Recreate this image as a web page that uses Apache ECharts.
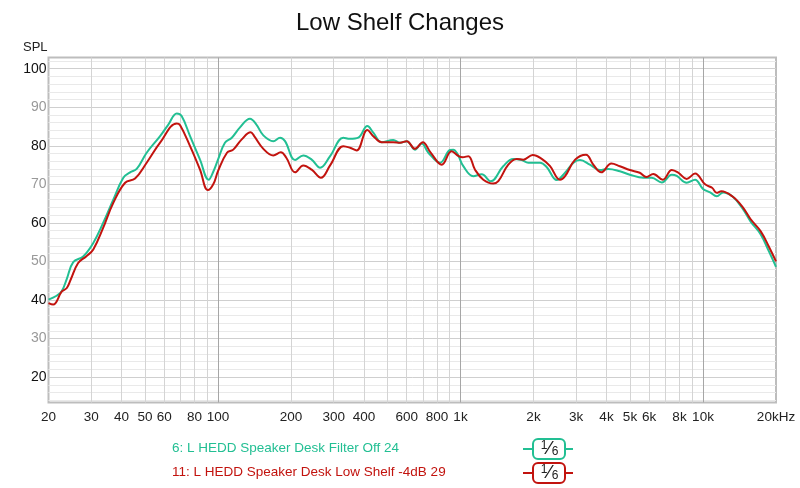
<!DOCTYPE html>
<html>
<head>
<meta charset="utf-8">
<script src="https://cdn.jsdelivr.net/npm/echarts@6/dist/echarts.min.js"></script>
<style>
  html, body { margin: 0; padding: 0; background: #fff; }
  #chart-panel { width: 800px; height: 488px; }
</style>
</head>
<body>
<div id="chart-panel"></div>
<script>
// traces, [Hz, dB]
var filterOffFreq = [20, 21.6, 22.7, 23.8, 25.3, 27.8, 30.6, 33.6, 37, 40.7, 43.4, 46.2, 50.8, 57.7, 62.4, 67.6, 70.8, 76.7, 84.3, 91.5, 95.5, 100, 106.8, 114, 123, 135.5, 144, 153.8, 169, 180.3, 189, 207.9, 224.8, 243.4, 263.7, 289.9, 328.8, 350, 379, 412.8, 437, 473, 528, 563, 600, 649, 692, 737, 823, 905, 934, 975, 1027, 1129, 1223, 1332, 1500, 1650, 1788, 1903, 2128, 2266, 2494, 2699, 2923, 3108, 3415, 3754, 4066, 4541, 4993, 5676, 6146, 6761, 7438, 7795, 8565, 9270, 10000, 10700, 11400, 12100, 13200, 14500, 15700, 17300, 18700, 20000];
var filterOffSpl = [40.1, 41.1, 42.3, 45.5, 49.8, 51.3, 54.8, 60, 66, 71.7, 73.1, 74.0, 78.2, 82.5, 85.5, 88.4, 87.7, 82.5, 76.4, 71.2, 73.2, 76.4, 80.8, 82.1, 84.7, 87.0, 85.5, 82.7, 81.2, 82.1, 81.2, 76.3, 77.5, 76.4, 74.3, 77.3, 82.1, 81.8, 82.1, 85.1, 83.4, 80.9, 81.5, 80.8, 81.2, 79.0, 80.6, 78.2, 75.6, 78.9, 79.0, 77.7, 74.7, 72.1, 72.6, 70.8, 74.7, 76.6, 76.3, 75.6, 75.6, 74.5, 71.1, 73.0, 75.6, 76.3, 75.1, 73.7, 74.0, 73.4, 72.5, 71.7, 71.7, 70.5, 72.5, 72.2, 70.4, 71.2, 68.8, 67.9, 66.9, 67.9, 66.9, 63.9, 60.4, 57.0, 52.6, 48.6];

var lowShelfFreq = [20, 20.9, 22.7, 23.8, 24.7, 26.5, 28.6, 30.6, 33.6, 37, 41.4, 45.5, 50.8, 57.7, 67.6, 69.8, 76.7, 84.3, 90.8, 95.6, 100, 108.9, 115.6, 125, 136.4, 141, 153.8, 169, 181.5, 191.3, 207.9, 224.8, 243.4, 265.7, 289.9, 328.8, 350, 373, 412.8, 437, 473, 528, 563, 600, 649, 699, 752, 837, 918, 982, 1020, 1077, 1148, 1242, 1365, 1432, 1574, 1705, 1816, 1985, 2163, 2341, 2572, 2699, 2969, 3291, 3529, 3806, 4191, 4541, 4993, 5486, 5842, 6233, 6826, 7438, 7914, 8565, 9273, 10200, 10900, 11400, 11900, 13200, 14500, 15700, 17300, 18700, 20000];
var lowShelfSpl = [39.2, 38.8, 42.2, 43.1, 45.3, 49.6, 51.3, 53.1, 58.7, 65.2, 70.4, 71.5, 75.6, 80.8, 85.8, 85.3, 79.9, 73.8, 68.5, 70.0, 73.4, 78.2, 79.0, 81.6, 83.5, 82.5, 79.2, 77.5, 78.3, 76.9, 73.1, 74.9, 73.8, 71.7, 74.9, 79.9, 79.5, 78.8, 84.1, 82.5, 80.9, 80.9, 80.8, 81.2, 79.2, 80.9, 78.3, 75.1, 78.6, 77.3, 77.0, 77.3, 73.8, 71.2, 70.2, 70.8, 75.1, 76.6, 76.4, 77.6, 76.6, 74.7, 71.2, 72.1, 76.4, 77.7, 75.1, 73.1, 75.4, 74.7, 73.7, 73.0, 71.9, 72.7, 71.2, 73.7, 73.0, 71.4, 72.8, 70.0, 69.1, 67.8, 68.2, 66.9, 64.3, 61.0, 57.8, 53.8, 50.0];

// axis ticks and grid lines
var freqLabels = [20, 30, 40, 50, 60, 80, 100, 200, 300, 400, 600, 800, 1000, 2000, 3000, 4000, 5000, 6000, 8000, 10000, 20000];
var freqMinor = [30, 40, 50, 60, 70, 80, 90, 200, 300, 400, 500, 600, 700, 800, 900, 2000, 3000, 4000, 5000, 6000, 7000, 8000, 9000];
var freqMajor = [100, 1000, 10000];
var splLabels = [20, 30, 40, 50, 60, 70, 80, 90, 100];
var splMinor = [14, 16, 18, 22, 24, 26, 28, 32, 34, 36, 38, 42, 44, 46, 48, 52, 54, 56, 58, 62, 64, 66, 68, 72, 74, 76, 78, 82, 84, 86, 88, 92, 94, 96, 98, 102];

var legendNames = ['6: L HEDD Speaker Desk Filter Off 24', '11: L HEDD Speaker Desk Low Shelf -4dB 29'];
var colGreen = '#22bf93';
var colRed = '#c2130e';

var FONT = '"Liberation Sans", Arial, sans-serif';

function pairs(xs, ys) {
    return xs.map(function (x, i) { return [x, ys[i]]; });
}

function gridLines(axisKey, values, color) {
    return values.map(function (v) {
        var d = { lineStyle: { color: color, width: 1, type: 'solid' } };
        d[axisKey] = v;
        return d;
    });
}

function legendItem(y, color, text) {
    return [
        {
            type: 'text', left: 172, top: y - 8,
            style: { text: text, fill: color, font: '13.5px ' + FONT }
        },
        {
            type: 'line', shape: { x1: 523, y1: y, x2: 573, y2: y },
            style: { stroke: color, lineWidth: 2 }
        },
        {
            type: 'rect', shape: { x: 533, y: y - 10, width: 32, height: 20, r: 5 },
            style: { fill: '#fff', stroke: color, lineWidth: 2 }
        },
        {
            type: 'text', x: 544, y: y - 3,
            style: { text: '1', fill: '#222', font: '12px ' + FONT, align: 'center', verticalAlign: 'middle' }
        },
        {
            type: 'text', x: 549, y: y,
            style: { text: '⁄', fill: '#222', font: '18px "DejaVu Sans", sans-serif', align: 'center', verticalAlign: 'middle' }
        },
        {
            type: 'text', x: 555, y: y + 3,
            style: { text: '6', fill: '#222', font: '12px ' + FONT, align: 'center', verticalAlign: 'middle' }
        }
    ];
}

var myChart = echarts.init(document.getElementById('chart-panel'));

var option = {
    backgroundColor: '#fff',
    animation: false,
    title: {
        text: 'Low Shelf Changes',
        left: 'center',
        top: 6,
        textStyle: { color: '#111', fontSize: 24, fontWeight: 'normal', fontFamily: FONT }
    },
    grid: {
        left: 48.5, right: 24, top: 57.5, bottom: 85.5,
        show: true, borderColor: '#bdbdbd', borderWidth: 2, backgroundColor: '#fff'
    },
    xAxis: {
        type: 'log',
        logBase: 10,
        min: 20,
        max: 20000,
        axisLine: { show: false },
        axisTick: { show: false },
        axisLabel: {
            customValues: freqLabels,
            color: '#222',
            fontSize: 13.5,
            margin: 8,
            fontFamily: FONT,
            formatter: function (v) {
                if (v >= 20000) return '20kHz';
                if (v >= 1000) return (v / 1000) + 'k';
                return String(v);
            }
        },
        splitLine: { show: false }
    },
    yAxis: {
        type: 'value',
        min: 13.4,
        max: 102.9,
        axisLine: { show: false },
        axisTick: { show: false },
        axisLabel: {
            customValues: splLabels,
            fontSize: 14,
            margin: 2,
            fontFamily: FONT,
            color: function (v) {
                return (Math.round(v) % 20 === 0) ? '#111' : '#999';
            }
        },
        splitLine: { show: false }
    },
    graphic: [
        {
            type: 'text', left: 23, top: 41,
            style: { text: 'SPL', fill: '#222', font: '13px ' + FONT }
        }
    ].concat(legendItem(449, colGreen, legendNames[0]), legendItem(473, colRed, legendNames[1])),
    series: [
        {
            name: 'grid',
            type: 'line',
            data: [],
            silent: true,
            z: 1,
            markLine: {
                z: 1,
                silent: true,
                symbol: ['none', 'none'],
                label: { show: false },
                animation: false,
                data: [].concat(
                    gridLines('yAxis', splMinor, '#e9e9e9'),
                    gridLines('yAxis', splLabels, '#cfcfcf'),
                    gridLines('xAxis', freqMinor, '#d4d4d4'),
                    gridLines('xAxis', freqMajor, '#a6a6a6')
                )
            }
        },
        {
            name: legendNames[0],
            type: 'line',
            data: pairs(filterOffFreq, filterOffSpl),
            smooth: 0.4,
            showSymbol: false,
            z: 10,
            lineStyle: { color: colGreen, width: 2 },
            itemStyle: { color: colGreen }
        },
        {
            name: legendNames[1],
            type: 'line',
            data: pairs(lowShelfFreq, lowShelfSpl),
            smooth: 0.4,
            showSymbol: false,
            z: 11,
            lineStyle: { color: colRed, width: 2 },
            itemStyle: { color: colRed }
        }
    ]
};

myChart.setOption(option);
</script>
</body>
</html>
